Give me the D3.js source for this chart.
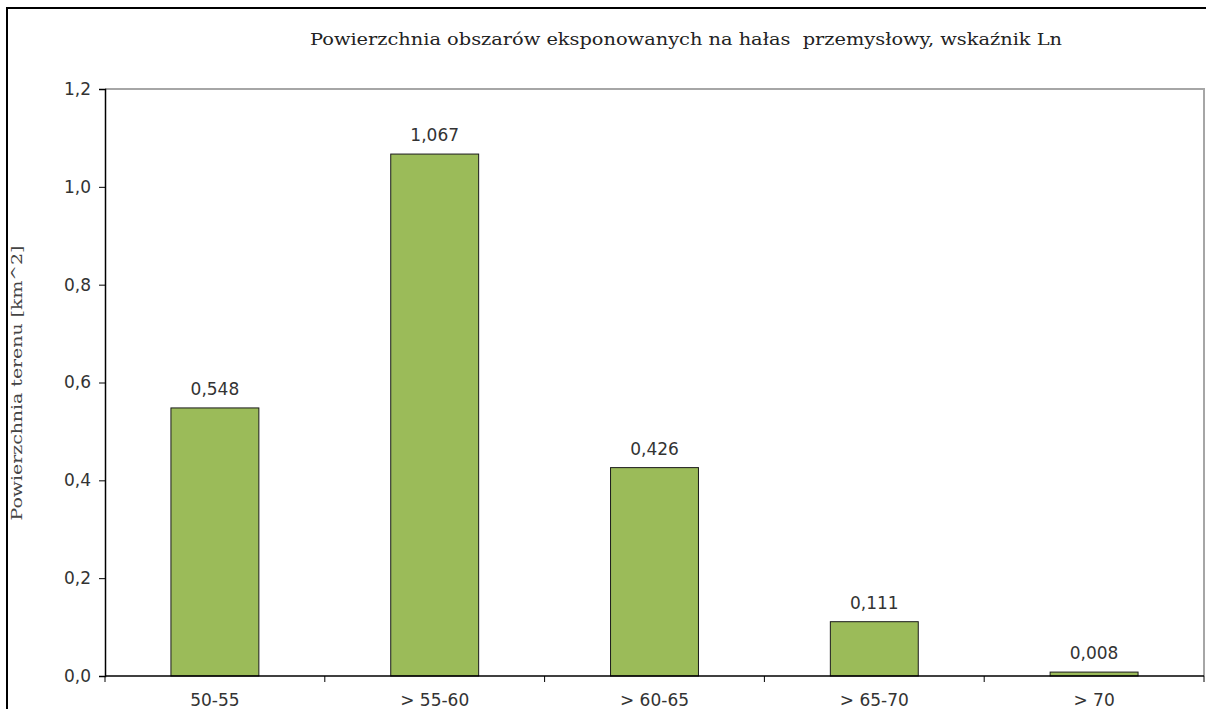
<!DOCTYPE html>
<html>
<head>
<meta charset="utf-8">
<script src="https://cdn.jsdelivr.net/npm/d3@7"></script>
<style>
  html, body { margin: 0; padding: 0; background: #fff; }
  svg { display: block; }
  text.pre { white-space: pre; }
</style>
</head>
<body>
<svg id="chart" width="1206" height="709"></svg>
<script>
// Noise exposure ranges (dB) and exposed area in km^2
const categories = ["50-55", "> 55-60", "> 60-65", "> 65-70", "> 70"];
const areas = [0.548, 1.067, 0.426, 0.111, 0.008];
const yTicks = [0, 0.2, 0.4, 0.6, 0.8, 1.0, 1.2];
const titleText = "Powierzchnia obszarów eksponowanych na hałas  przemysłowy, wskaźnik Ln";
const yLabelText = "Powierzchnia terenu [km^2]";

const W = 1206, H = 709;
const plot = { left: 105, right: 1204, top: 89, bottom: 676 };

const pl = d3.formatLocale({ decimal: ",", thousands: " ", grouping: [3], currency: ["", " zł"] });
const fmtTick = pl.format(".1f");
const fmtVal = pl.format(".3f");

const svg = d3.select("#chart");

// outer chart frame
svg.append("rect")
  .attr("x", 7).attr("y", 8)
  .attr("width", W + 10).attr("height", H + 10)
  .attr("fill", "#fff").attr("stroke", "#000").attr("stroke-width", 2);

const x = d3.scaleBand()
  .domain(categories)
  .range([plot.left, plot.right])
  .paddingInner(0.6)
  .paddingOuter(0.3);

const y = d3.scaleLinear()
  .domain([0, 1.2])
  .range([plot.bottom, plot.top]);

// plot area border (top and right in grey)
svg.append("path")
  .attr("d", `M${plot.left},${plot.top}H${plot.right}V${plot.bottom}`)
  .attr("fill", "none").attr("stroke", "#a6a6a6").attr("stroke-width", 2);

// bars
svg.append("g").selectAll("rect")
  .data(areas)
  .join("rect")
  .attr("x", (d, i) => x(categories[i]))
  .attr("y", d => y(d))
  .attr("width", x.bandwidth())
  .attr("height", d => y(0) - y(d))
  .attr("fill", "#9bbb59")
  .attr("stroke", "#1a1a1a")
  .attr("stroke-width", 1);

// value labels
svg.append("g").selectAll("text")
  .data(areas)
  .join("text")
  .attr("x", (d, i) => x(categories[i]) + x.bandwidth() / 2)
  .attr("y", d => y(d) - 13)
  .attr("text-anchor", "middle")
  .attr("font-family", "DejaVu Sans, Verdana, sans-serif")
  .attr("font-size", 17)
  .attr("fill", "#333")
  .text(d => fmtVal(d));

// y axis
const yAxis = d3.axisLeft(y).tickValues(yTicks).tickFormat(fmtTick).tickSize(6).tickPadding(8);
const gy = svg.append("g").attr("transform", `translate(${plot.left},0)`).call(yAxis);
gy.select(".domain").attr("stroke", "#000").attr("stroke-width", 1.5);
gy.selectAll(".tick line").attr("stroke", "#000");
gy.selectAll(".tick text")
  .attr("font-family", "DejaVu Sans, Verdana, sans-serif")
  .attr("font-size", 17).attr("fill", "#333");

// x axis with ticks at category boundaries
const step = x.step();
const boundaries = categories.map(c => x(c) + x.bandwidth() / 2 - step / 2).concat([plot.right]);
const gx = svg.append("g");
gx.append("line")
  .attr("x1", plot.left).attr("x2", plot.right)
  .attr("y1", plot.bottom).attr("y2", plot.bottom)
  .attr("stroke", "#000").attr("stroke-width", 1.5);
gx.selectAll("line.b")
  .data(boundaries)
  .join("line").attr("class", "b")
  .attr("x1", d => d).attr("x2", d => d)
  .attr("y1", plot.bottom).attr("y2", plot.bottom + 6)
  .attr("stroke", "#000");
gx.selectAll("text")
  .data(categories)
  .join("text")
  .attr("x", c => x(c) + x.bandwidth() / 2)
  .attr("y", plot.bottom + 30)
  .attr("text-anchor", "middle")
  .attr("font-family", "DejaVu Sans, Verdana, sans-serif")
  .attr("font-size", 17)
  .attr("fill", "#333")
  .text(c => c);

// title
svg.append("text")
  .attr("class", "pre")
  .attr("x", 686).attr("y", 45)
  .attr("text-anchor", "middle")
  .attr("font-family", "DejaVu Serif, serif")
  .attr("font-size", 16)
  .attr("fill", "#222")
  .attr("textLength", 752)
  .attr("lengthAdjust", "spacingAndGlyphs")
  .text(titleText);

// y axis title
svg.append("text")
  .attr("transform", "translate(22,383) rotate(-90)")
  .attr("text-anchor", "middle")
  .attr("font-family", "DejaVu Serif, serif")
  .attr("font-size", 15)
  .attr("fill", "#444")
  .attr("textLength", 275)
  .attr("lengthAdjust", "spacingAndGlyphs")
  .text(yLabelText);
</script>
</body>
</html>
